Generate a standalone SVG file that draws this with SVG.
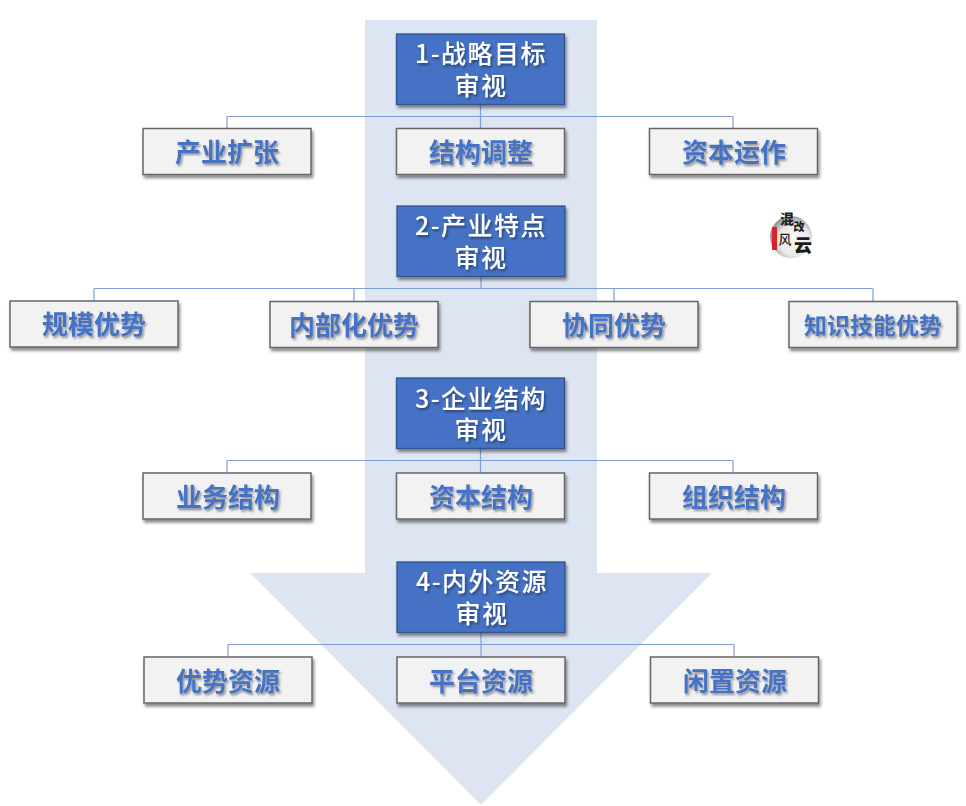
<svg xmlns="http://www.w3.org/2000/svg" width="966" height="806" viewBox="0 0 966 806">
<style>
.b{fill:#4472c4;stroke:#2f528f;stroke-width:1.3}
.w{fill:#f2f2f2;stroke:#666;stroke-width:1.5}
text{font-family:"Noto Sans CJK SC","Liberation Sans",sans-serif;text-anchor:middle}
.bt{fill:#fff;font-size:25px;font-weight:500;letter-spacing:1.5px}
.wt{fill:#4472c4;font-size:26px;font-weight:700}
.sm{font-size:23px}
.c{fill:none;stroke:#7f9fd8;stroke-width:1.2}
.lg{fill:#1c1c1c;font-weight:900}
</style>
<defs>
<filter id="s" x="-10%" y="-20%" width="125%" height="145%"><feDropShadow dx="1.5" dy="3" stdDeviation="1.8" flood-color="#000" flood-opacity=".45"/></filter>
<filter id="t" x="-10%" y="-20%" width="125%" height="145%"><feDropShadow dx="1.5" dy="2" stdDeviation="1" flood-color="#000" flood-opacity=".4"/></filter>
<radialGradient id="g" cx=".58" cy=".58" r=".62"><stop offset="0" stop-color="#fafafa"/><stop offset=".6" stop-color="#e8e8e8"/><stop offset="1" stop-color="#8a8a8a"/></radialGradient>
</defs>
<polygon id="arrow" fill="#dee5f2" points="365,20 597,20 597,573 712,573 481,805 250,573 365,573"/>
<g id="connectors" class="c">
<path d="M480.500 104.500V128.500M227 116.500H733M227 116.500V128.500M733 116.500V128.500"/>
<path d="M481 276.500V288.500M94 288.500H873M94 288.500V301M354 288.500V301.500M614 288.500V301.500M873 288.500V301.500"/>
<path d="M480.500 448.500V473M227 460.500H733M227 460.500V473M733 460.500V473"/>
<path d="M481 632.500V657M228 644.500H734M228 644.500V657M734 644.500V657"/>
</g>
<g id="n1"><rect class="b" x="396.500" y="34" width="168" height="70.500" filter="url(#s)"/><text class="bt" filter="url(#t)"><tspan x="481" y="63">1-战略目标</tspan><tspan x="481" y="95">审视</tspan></text></g>
<g id="n1a"><rect class="w" x="143" y="128.500" width="168" height="46" filter="url(#s)"/><text class="wt" filter="url(#t)" x="227" y="162">产业扩张</text></g>
<g id="n1b"><rect class="w" x="396.500" y="128.500" width="168" height="46" filter="url(#s)"/><text class="wt" filter="url(#t)" x="481" y="162">结构调整</text></g>
<g id="n1c"><rect class="w" x="649.500" y="128.500" width="168" height="46" filter="url(#s)"/><text class="wt" filter="url(#t)" x="734" y="162">资本运作</text></g>
<g id="n2"><rect class="b" x="397" y="206" width="168" height="70.500" filter="url(#s)"/><text class="bt" filter="url(#t)"><tspan x="481" y="235">2-产业特点</tspan><tspan x="481" y="267">审视</tspan></text></g>
<g id="n2a"><rect class="w" x="10" y="301" width="168" height="46" filter="url(#s)"/><text class="wt" filter="url(#t)" x="94" y="334">规模优势</text></g>
<g id="n2b"><rect class="w" x="270" y="301.500" width="168" height="46" filter="url(#s)"/><text class="wt" filter="url(#t)" x="354" y="335">内部化优势</text></g>
<g id="n2c"><rect class="w" x="530" y="301.500" width="168" height="46" filter="url(#s)"/><text class="wt" filter="url(#t)" x="614" y="335">协同优势</text></g>
<g id="n2d"><rect class="w" x="789" y="301.500" width="168" height="46" filter="url(#s)"/><text class="wt sm" filter="url(#t)" x="873" y="334">知识技能优势</text></g>
<g id="n3"><rect class="b" x="396.500" y="378" width="168" height="70.500" filter="url(#s)"/><text class="bt" filter="url(#t)"><tspan x="481" y="408">3-企业结构</tspan><tspan x="481" y="439">审视</tspan></text></g>
<g id="n3a"><rect class="w" x="143" y="473" width="168" height="46" filter="url(#s)"/><text class="wt" filter="url(#t)" x="228" y="507">业务结构</text></g>
<g id="n3b"><rect class="w" x="396.500" y="473" width="168" height="46" filter="url(#s)"/><text class="wt" filter="url(#t)" x="481" y="507">资本结构</text></g>
<g id="n3c"><rect class="w" x="649.500" y="473" width="168" height="46" filter="url(#s)"/><text class="wt" filter="url(#t)" x="734" y="507">组织结构</text></g>
<g id="n4"><rect class="b" x="397" y="562" width="168" height="70.500" filter="url(#s)"/><text class="bt" filter="url(#t)"><tspan x="482" y="591">4-内外资源</tspan><tspan x="482" y="623">审视</tspan></text></g>
<g id="n4a"><rect class="w" x="144" y="657" width="168" height="46" filter="url(#s)"/><text class="wt" filter="url(#t)" x="228" y="691">优势资源</text></g>
<g id="n4b"><rect class="w" x="397" y="657" width="168" height="46" filter="url(#s)"/><text class="wt" filter="url(#t)" x="481" y="691">平台资源</text></g>
<g id="n4c"><rect class="w" x="650.500" y="657" width="168" height="46" filter="url(#s)"/><text class="wt" filter="url(#t)" x="735" y="691">闲置资源</text></g>
<g id="logo">
<circle cx="791" cy="237" r="21" fill="url(#g)"/>
<rect x="772" y="227" width="5" height="23" fill="#d9232a"/>
<text class="lg"><tspan x="787" y="224" font-size="14">混</tspan><tspan x="799" y="231" font-size="11">改</tspan><tspan x="785" y="244" font-size="13" font-weight="500">风</tspan><tspan x="803" y="252" font-size="18">云</tspan></text>
</g>
</svg>
